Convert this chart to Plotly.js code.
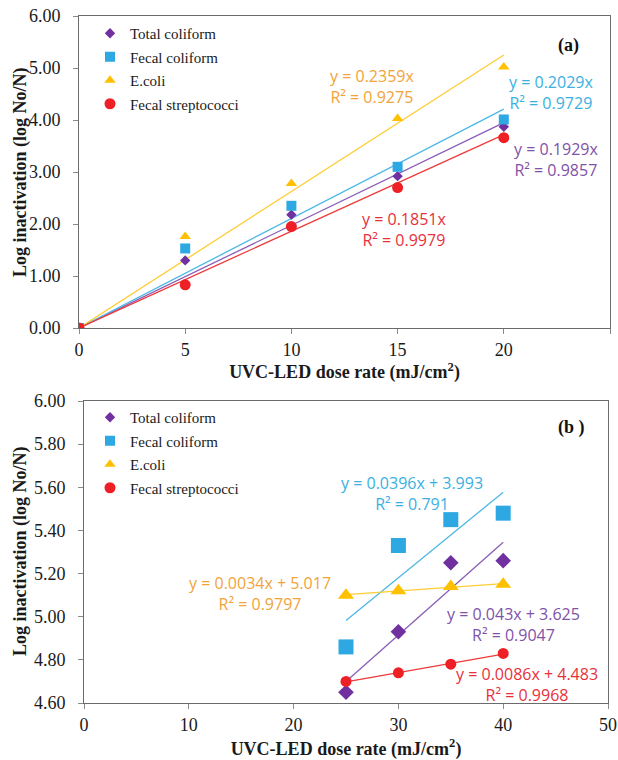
<!DOCTYPE html>
<html><head><meta charset="utf-8">
<script src="https://cdn.plot.ly/plotly-3.0.1.min.js"></script>
<style>html,body{margin:0;padding:0;background:#fff}</style>
</head><body><div id="chart" style="width:618px;height:760px"></div>
<script>
// ---- data (panel a) ----
const seriesNames = ['Total coliform', 'Fecal coliform', 'E.coli', 'Fecal streptococci'];
const doseA = [0, 5, 10, 15, 20];
const totalColiformA = [0, 1.30, 2.18, 2.92, 3.87];
const fecalColiformA = [0, 1.53, 2.35, 3.10, 4.01];
const ecoliA = [0, 1.76, 2.78, 4.03, 5.02];
const fecalStrepA = [0, 0.83, 1.95, 2.70, 3.66];
// trendlines as drawn in panel a (through origin): value read at the last dose
const trendStartA = [0, 0, 0, 0];
const trendEndA = [3.95, 4.21, 5.25, 3.72];
const eqTextA = ['y = 0.1929x', 'y = 0.2029x', 'y = 0.2359x', 'y = 0.1851x'];
const r2TextA = ['R² = 0.9857', 'R² = 0.9729', 'R² = 0.9275', 'R² = 0.9979'];

// ---- data (panel b) ----
const doseB = [25, 30, 35, 40];
const totalColiformB = [4.65, 4.93, 5.25, 5.26];
const fecalColiformB = [4.86, 5.33, 5.45, 5.48];
const ecoliB = [5.10, 5.12, 5.14, 5.15];
const fecalStrepB = [4.70, 4.74, 4.78, 4.83];
const slopeB = [0.043, 0.0396, 0.0034, 0.0086];
const interceptB = [3.625, 3.993, 5.017, 4.483];
const eqTextB = ['y = 0.043x + 3.625', 'y = 0.0396x + 3.993', 'y = 0.0034x + 5.017', 'y = 0.0086x + 4.483'];
const r2TextB = ['R² = 0.9047', 'R² = 0.791', 'R² = 0.9797', 'R² = 0.9968'];

const xTitleText = '<b>UVC-LED dose rate (mJ/cm<sup>2</sup>)</b>';
const yTitleText = '<b>Log inactivation (log No/N)</b>';

// ---- styles ----
const W = 618, H = 760;
const px = x => x / W, py = y => 1 - y / H;
const markerColors = ['#7030A0', '#2EA8E2', '#FFC000', '#EE2026'];
const lineColors = ['#8A5DB8', '#4DB8E8', '#FFCC33', '#EE3A3A'];
const textColors = ['#7F52A8', '#3AB0E2', '#F2A33A', '#E8303A'];
const symbols = ['diamond', 'square', 'triangle-up', 'circle'];
const sizesA = [8, 10, 10, 11];
const sizesB = [12, 15, 14, 11];
const legendSizes = [8, 10, 10, 11];
const serif = 'Liberation Serif, Times New Roman, serif';
const sans = 'Open Sans, Lato, sans-serif';

const seriesA = [totalColiformA, fecalColiformA, ecoliA, fecalStrepA];
const seriesB = [totalColiformB, fecalColiformB, ecoliB, fecalStrepB];

const traces = [];
function lineTrace(x, y, i, xa, ya) {
  return { x: x, y: y, xaxis: xa, yaxis: ya, mode: 'lines', line: { color: lineColors[i], width: 1.3 },
    showlegend: false, hoverinfo: 'skip' };
}
for (let i = 0; i < 4; i++) traces.push(lineTrace([doseA[0], doseA[doseA.length - 1]], [trendStartA[i], trendEndA[i]], i, 'x', 'y'));
for (let i = 0; i < 4; i++) {
  const x0 = doseB[0], x1 = doseB[doseB.length - 1];
  traces.push(lineTrace([x0, x1], [slopeB[i] * x0 + interceptB[i], slopeB[i] * x1 + interceptB[i]], i, 'x2', 'y2'));
}
for (let i = 0; i < 4; i++) traces.push({ x: doseA, y: seriesA[i], xaxis: 'x', yaxis: 'y', name: seriesNames[i],
  mode: 'markers', marker: { symbol: symbols[i], size: sizesA[i], color: markerColors[i] },
  legend: 'legend', legendgroup: 'a' + i });
for (let i = 0; i < 4; i++) traces.push({ x: doseB, y: seriesB[i], xaxis: 'x2', yaxis: 'y2', name: seriesNames[i],
  mode: 'markers', marker: { symbol: symbols[i], size: sizesB[i], color: markerColors[i] },
  showlegend: false, legendgroup: 'b' + i });
// legend entries for panel b (small legend keys as in the original)
for (let i = 0; i < 4; i++) traces.push({ x: [null], y: [null], xaxis: 'x2', yaxis: 'y2', name: seriesNames[i],
  mode: 'markers', marker: { symbol: symbols[i], size: legendSizes[i], color: markerColors[i] },
  legend: 'legend2', legendgroup: 'b' + i, hoverinfo: 'skip' });

const axisCommon = {
  showgrid: false, zeroline: false, showline: true, mirror: true, linecolor: '#6b6b6b', linewidth: 1,
  ticks: 'outside', ticklen: 5, tickcolor: '#8a8a8a', tickfont: { family: serif, size: 18, color: '#1a1a1a' },
};
const xTitleFont = { family: serif, size: 18, color: '#1a1a1a' };

const annotations = [];
function eq(text, r2, cx, cy, color) {
  annotations.push({ xref: 'paper', yref: 'paper', x: px(cx), y: py(cy), xanchor: 'center', yanchor: 'middle',
    text: text + '<br>' + r2, showarrow: false, align: 'center', font: { family: sans, size: 16, color: color } });
}
// panel a labels
eq(eqTextA[2], r2TextA[2], 372, 86, textColors[2]);
eq(eqTextA[1], r2TextA[1], 551, 92, textColors[1]);
eq(eqTextA[0], r2TextA[0], 556, 159, textColors[0]);
eq(eqTextA[3], r2TextA[3], 404, 229, textColors[3]);
// panel b labels
eq(eqTextB[1], r2TextB[1], 412, 493, textColors[1]);
eq(eqTextB[2], r2TextB[2], 260, 593, textColors[2]);
eq(eqTextB[0], r2TextB[0], 513, 624, textColors[0]);
eq(eqTextB[3], r2TextB[3], 527, 684, textColors[3]);
annotations.push({ xref: 'paper', yref: 'paper', x: px(568), y: py(45), xanchor: 'center', yanchor: 'middle',
  text: '<b>(a)</b>', showarrow: false, font: { family: serif, size: 18, color: '#111' } });
annotations.push({ xref: 'paper', yref: 'paper', x: px(571), y: py(427), xanchor: 'center', yanchor: 'middle',
  text: '<b>(b )</b>', showarrow: false, font: { family: serif, size: 18, color: '#111' } });
// y-axis titles
annotations.push({ xref: 'paper', yref: 'paper', x: px(20), y: py(172), xanchor: 'center', yanchor: 'middle',
  text: yTitleText, textangle: -90, showarrow: false, font: { family: serif, size: 18, color: '#1a1a1a' } });
annotations.push({ xref: 'paper', yref: 'paper', x: px(20), y: py(551), xanchor: 'center', yanchor: 'middle',
  text: yTitleText, textangle: -90, showarrow: false, font: { family: serif, size: 18, color: '#1a1a1a' } });

const legendCommon = { font: { family: serif, size: 15, color: '#1a1a1a' }, bgcolor: 'rgba(0,0,0,0)',
  traceorder: 'grouped', tracegroupgap: 1, xanchor: 'left', yanchor: 'top', itemsizing: 'trace' };

const ySuffix = '\u00a0\u00a0';
const layout = {
  width: W, height: H, margin: { l: 0, r: 0, t: 0, b: 0 }, paper_bgcolor: '#fff', plot_bgcolor: '#fff',
  showlegend: true,
  xaxis: Object.assign({}, axisCommon, { domain: [px(79), px(610)], range: [0, 25], dtick: 5, anchor: 'y',
    title: { text: xTitleText, font: xTitleFont, standoff: 6 } }),
  yaxis: Object.assign({}, axisCommon, { domain: [py(328), py(16)], range: [0, 6], dtick: 1, tickformat: '.2f', anchor: 'x',
    ticksuffix: ySuffix }),
  xaxis2: Object.assign({}, axisCommon, { domain: [px(84), px(608)], range: [0, 50], dtick: 10, anchor: 'y2',
    title: { text: xTitleText, font: xTitleFont, standoff: 10 } }),
  yaxis2: Object.assign({}, axisCommon, { domain: [py(703), py(401)], range: [4.6, 6.0], dtick: 0.2, tickformat: '.2f', anchor: 'x2',
    ticksuffix: ySuffix }),
  legend: Object.assign({}, legendCommon, { x: px(90), y: py(17) }),
  legend2: Object.assign({}, legendCommon, { x: px(90), y: py(401) }),
  annotations: annotations,
};

Plotly.newPlot('chart', traces, layout, { staticPlot: true, displayModeBar: false });
</script></body></html>
